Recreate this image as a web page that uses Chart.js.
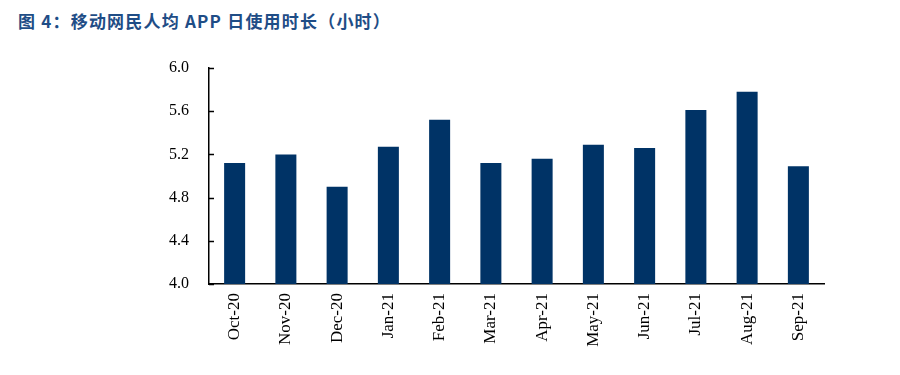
<!DOCTYPE html>
<html>
<head>
<meta charset="utf-8">
<script src="https://cdn.jsdelivr.net/npm/chart.js@4.4.0/dist/chart.umd.min.js"></script>
<style>
  body { margin: 0; background: #fff; }
  #wrap { position: relative; width: 900px; height: 375px; }
  #title {
    position: absolute; left: 18px; top: 8px;
    font: bold 17px "Noto Sans CJK SC", "Noto Sans", sans-serif;
    letter-spacing: 1.2px;
    color: #1f4d86; white-space: nowrap;
  }
  #box { position: absolute; left: 0; top: 0; width: 900px; height: 375px; }
</style>
</head>
<body>
<div id="wrap">
  <div id="title">图 4：移动网民人均 APP 日使用时长（小时）</div>
  <div id="box"><canvas id="appChart"></canvas></div>
</div>
<script>
const months = ["Oct-20", "Nov-20", "Dec-20", "Jan-21", "Feb-21", "Mar-21",
                "Apr-21", "May-21", "Jun-21", "Jul-21", "Aug-21", "Sep-21"];
const hours = [5.12, 5.20, 4.90, 5.27, 5.52, 5.12, 5.16, 5.29, 5.26, 5.61, 5.78, 5.09];
const yTicks = [4.0, 4.4, 4.8, 5.2, 5.6, 6.0];

// small tick marks drawn on the inside of the y axis
const innerTicks = {
  id: "innerTicks",
  afterDraw(chart) {
    const y = chart.scales.y;
    const c = chart.ctx;
    c.save();
    c.strokeStyle = "#000";
    c.lineWidth = 1.5;
    yTicks.forEach(v => {
      const py = Math.round(y.getPixelForValue(v)) + 0.5;
      c.beginPath();
      c.moveTo(y.right, py);
      c.lineTo(y.right + 5, py);
      c.stroke();
    });
    c.restore();
  }
};

const ctx = document.getElementById("appChart").getContext("2d");

new Chart(ctx, {
  type: "bar",
  data: {
    labels: months,
    datasets: [{
      data: hours,
      backgroundColor: "#003366",
      categoryPercentage: 0.82,
      barPercentage: 0.5
    }]
  },
  options: {
    responsive: true,
    maintainAspectRatio: false,
    animation: false,
    layout: { padding: { left: 0, right: 76, top: 68, bottom: 0 } },
    plugins: { legend: { display: false }, tooltip: { enabled: false } },
    scales: {
      x: {
        grid: { display: false, drawTicks: false },
        border: { display: true, color: "#000", width: 1.5 },
        ticks: {
          color: "#000",
          font: { family: "'Liberation Serif', 'Times New Roman', serif", size: 17 },
          minRotation: 90,
          maxRotation: 90,
          padding: 9
        },
        afterFit(scale) { scale.height = 91; }
      },
      y: {
        min: 4.0,
        max: 6.0,
        grid: { display: false, drawTicks: false },
        border: { display: true, color: "#000", width: 1.5 },
        ticks: {
          stepSize: 0.4,
          color: "#000",
          padding: 20,
          font: { family: "'Liberation Serif', 'Times New Roman', serif", size: 16 },
          callback: v => v.toFixed(1)
        },
        afterFit(scale) { scale.width = 209; }
      }
    }
  },
  plugins: [innerTicks]
});
</script>
</body>
</html>
